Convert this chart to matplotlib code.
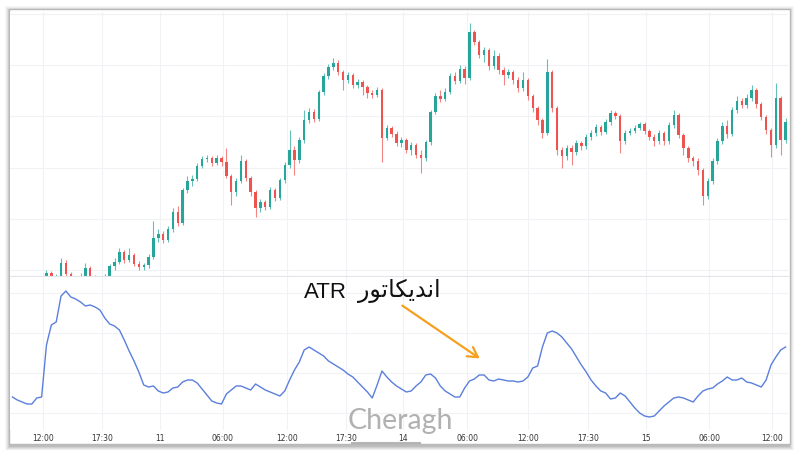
import numpy as np
import matplotlib
matplotlib.use("Agg")
import matplotlib.pyplot as plt
from matplotlib.patches import Rectangle

# candle data (price units), one candle per 15-min step
opens = [10, 14, 12, 16, 13, 17, 15, 20, 27, 22,
         24, 37, 26, 20, 21, 24, 32, 23, 19, 18,
         23, 34, 38, 48, 40, 45, 36, 33, 35, 43,
         62, 66, 60, 71, 88, 77, 110, 119, 121, 134,
         141, 142, 137, 142, 138, 124, 108, 119, 139, 122,
         108, 92, 98, 93, 110, 102, 120, 135, 150, 140,
         160, 180, 188, 181, 208, 224, 233, 237, 228, 220,
         225, 215, 218, 213, 207, 205, 210, 162, 172, 166,
         157, 160, 150, 155, 145, 142, 158, 188, 204, 201,
         208, 224, 219, 231, 222, 268, 258, 245, 250, 234,
         244, 230, 225, 228, 220, 212, 220, 204, 192, 180,
         167, 228, 192, 150, 144, 152, 148, 157, 154, 163,
         167, 173, 168, 178, 187, 184, 159, 167, 169, 172,
         176, 169, 163, 159, 167, 159, 175, 185, 165, 152,
         142, 139, 130, 104, 119, 139, 159, 174, 166, 190,
         199, 195, 202, 210, 196, 183, 170, 155, 202, 160]
closes = [14, 12, 16, 13, 17, 15, 20, 27, 22, 24,
          37, 26, 20, 21, 24, 32, 23, 19, 18, 23,
          34, 38, 48, 40, 45, 36, 33, 35, 43, 62,
          66, 60, 71, 88, 77, 110, 119, 121, 134, 141,
          142, 137, 142, 138, 124, 108, 119, 139, 122, 108,
          92, 98, 93, 110, 102, 120, 135, 150, 140, 160,
          180, 188, 181, 208, 224, 233, 237, 228, 220, 225,
          215, 218, 213, 207, 205, 210, 162, 172, 166, 157,
          160, 150, 155, 145, 142, 158, 188, 204, 201, 208,
          224, 219, 231, 222, 268, 258, 245, 250, 234, 244,
          230, 225, 228, 220, 212, 220, 204, 192, 180, 167,
          228, 192, 150, 144, 152, 148, 157, 154, 163, 167,
          173, 168, 178, 187, 184, 159, 167, 169, 172, 176,
          169, 163, 159, 167, 159, 175, 185, 165, 152, 142,
          139, 130, 104, 119, 139, 159, 174, 166, 190, 199,
          195, 202, 210, 196, 183, 170, 155, 202, 160, 178]
highs = [17, 17, 19, 18, 20, 20, 23, 30, 29, 26,
         42, 40, 28, 24, 27, 37, 34, 25, 22, 26,
         36, 42, 52, 50, 52, 47, 39, 37, 46, 79,
         71, 69, 74, 92, 94, 112, 124, 125, 137, 144,
         145, 144, 145, 144, 152, 126, 122, 145, 141, 124,
         110, 101, 100, 113, 112, 122, 138, 170, 154, 163,
         190, 192, 191, 210, 227, 236, 242, 240, 230, 228,
         227, 221, 220, 215, 210, 213, 212, 175, 174, 169,
         163, 162, 158, 157, 150, 160, 190, 207, 210, 212,
         227, 228, 235, 234, 277, 270, 260, 253, 252, 250,
         247, 233, 231, 230, 223, 228, 222, 206, 194, 182,
         241, 230, 194, 153, 155, 155, 160, 159, 166, 170,
         176, 175, 181, 190, 189, 186, 170, 172, 175, 178,
         178, 171, 166, 170, 169, 178, 190, 187, 167, 154,
         144, 142, 132, 122, 142, 162, 178, 180, 193, 204,
         202, 206, 215, 212, 198, 185, 172, 217, 204, 182]
lows = [6, 7, 9, 8, 10, 11, 13, 17, 18, 17,
        21, 23, 15, 16, 18, 21, 20, 15, 14, 16,
        20, 30, 36, 37, 38, 34, 30, 30, 32, 41,
        58, 57, 58, 68, 74, 75, 107, 114, 119, 132,
        138, 134, 135, 134, 122, 95, 104, 117, 119, 104,
        83, 88, 90, 91, 99, 100, 117, 132, 125, 137,
        157, 177, 178, 179, 205, 221, 230, 225, 210, 217,
        212, 212, 205, 202, 202, 203, 138, 160, 163, 154,
        153, 147, 145, 142, 127, 139, 155, 186, 198, 199,
        206, 216, 217, 216, 220, 255, 242, 238, 230, 231,
        226, 215, 222, 216, 208, 209, 200, 188, 175, 162,
        165, 188, 145, 132, 140, 135, 145, 150, 151, 160,
        164, 165, 166, 175, 181, 147, 156, 165, 167, 170,
        166, 160, 154, 156, 155, 156, 172, 162, 145, 138,
        134, 125, 95, 101, 116, 136, 156, 162, 164, 187,
        192, 192, 199, 192, 180, 166, 143, 152, 145, 157]

# ATR values for each candle
atr = [33, 30, 28, 26, 26, 32, 33, 85, 105, 108,
       134, 139, 133, 131, 128, 124, 125, 123, 120, 112,
       106, 104, 100, 90, 79, 69, 58, 45, 43, 44,
       39, 37, 38, 42, 43, 48, 50, 50, 47, 41,
       35, 29, 27, 26, 36, 40, 44, 44, 42, 40,
       46, 43, 40, 38, 36, 34, 39, 50, 60, 68,
       80, 83, 80, 77, 74, 69, 66, 63, 60, 56,
       53, 48, 43, 38, 32, 45, 59, 53, 48, 44,
       41, 38, 39, 44, 48, 55, 56, 52, 44, 39,
       36, 33, 33, 42, 49, 51, 55, 55, 50, 49,
       51, 50, 49, 49, 48, 49, 53, 62, 64, 83,
       97, 99, 97, 93, 87, 81, 73, 65, 58, 50,
       44, 39, 37, 31, 32, 37, 34, 28, 22, 17,
       14, 13, 14, 19, 24, 28, 32, 33, 32, 30,
       28, 34, 39, 41, 42, 46, 49, 53, 50, 50,
       52, 48, 47, 45, 43, 50, 65, 73, 80, 83]

tick_pos = [6.8, 18.9, 30.8, 43.8, 57.0, 69.1, 80.8, 94.0, 106.5, 118.9, 130.8, 143.8, 156.7]
tick_labels = ["12:00", "17:30", "11", "06:00", "12:00", "17:30", "14",
               "06:00", "12:00", "17:30", "15", "06:00", "12:00"]

GREEN = "#26a69a"
RED = "#ef5350"
GRID = "#f0f2f6"

W, H = 800, 450


def fx(px):
    return px / W


def fy(py):
    return 1 - py / H


fig = plt.figure(figsize=(8, 4.5), dpi=100)
fig.patch.set_facecolor("white")

# frame with soft shadow
bg = fig.add_axes([0, 0, 1, 1], zorder=-5)
bg.set_xlim(0, W)
bg.set_ylim(H, 0)
bg.axis("off")
for k, a in enumerate([0.03, 0.04, 0.05, 0.07, 0.09]):
    off = 5 - k
    bg.add_patch(Rectangle((9 - off + 1, 9 - off + 2), 781 + 2 * off - 2, 435 + 2 * off,
                           facecolor="black", alpha=a, edgecolor="none"))
bg.add_patch(Rectangle((9, 9), 781, 435, facecolor="white", edgecolor="#b8b8b8", linewidth=1.0))

n = len(opens)
x = np.arange(n) + 0.5
o = np.array(opens, float)
c = np.array(closes, float)
hi = np.array(highs, float)
lo = np.array(lows, float)
up = c >= o
colors = np.where(up, GREEN, RED)

# price pane
ax1 = fig.add_axes([fx(10), fy(276), fx(778), (276 - 12) / H])
ax1.vlines(x, lo, hi, colors=colors, linewidth=0.8, alpha=0.7)
ax1.bar(x, np.abs(c - o), bottom=np.minimum(o, c), width=0.5, color=colors, linewidth=0)
ax1.set_xlim(0, n)
ax1.set_ylim(24, 288)
ax1.set_yticks([30, 81, 132, 184, 235, 286])
ax1.set_xticks(tick_pos)
ax1.tick_params(length=0, labelbottom=False, labelleft=False)
ax1.grid(True, color=GRID, linewidth=0.8)
ax1.set_axisbelow(True)
for s in ax1.spines.values():
    s.set_visible(False)
ax1.spines["bottom"].set_visible(True)
ax1.spines["bottom"].set_color("#e2e4ea")

# ATR pane
ax2 = fig.add_axes([fx(10), fy(430), fx(778), (430 - 277) / H])
ax2.plot(x, atr, color="#5a7fdc", linewidth=1.0)
ax2.set_xlim(0, n)
ax2.set_ylim(0, 153)
ax2.set_yticks([17, 57, 97, 137])
ax2.set_xticks(tick_pos)
ax2.set_xticklabels(tick_labels)
ax2.tick_params(length=0, labelleft=False, labelsize=5.5, labelcolor="#333333", pad=3)
ax2.grid(True, color=GRID, linewidth=0.8)
ax2.set_axisbelow(True)
for s in ax2.spines.values():
    s.set_visible(False)

# label: "ATR" + Persian word (presentation forms, visual order)
persian = "\uFEAD\uFEEE\uFE97\uFE8E\uFB91\uFBFE\uFEAA\uFEE7\uFE8D"
fig.text(fx(304), fy(292), "ATR", fontsize=16, color="#111111",
         family=["Liberation Sans", "DejaVu Sans"], ha="left", va="center")
fig.text(fx(358), fy(291), persian, fontsize=17, color="#111111",
         family=["DejaVu Sans"], ha="left", va="center")

# orange arrow
ax2.annotate("", xy=(482, H - 360), xytext=(400, H - 304),
             xycoords="figure pixels", textcoords="figure pixels",
             arrowprops=dict(arrowstyle="->,head_length=0.7,head_width=0.4",
                             color="#f5a01f", lw=1.6),
             annotation_clip=False)

# watermark
fig.text(fx(400), fy(421), "Cheragh", fontsize=20.5, color="#a4a4a4", alpha=0.85,
         family="Lato", ha="center", va="center")
bg.plot([352, 420], [443, 443], color="#a4a4a4", linewidth=1.5, alpha=0.8)

fig.savefig("out.png", dpi=100)
